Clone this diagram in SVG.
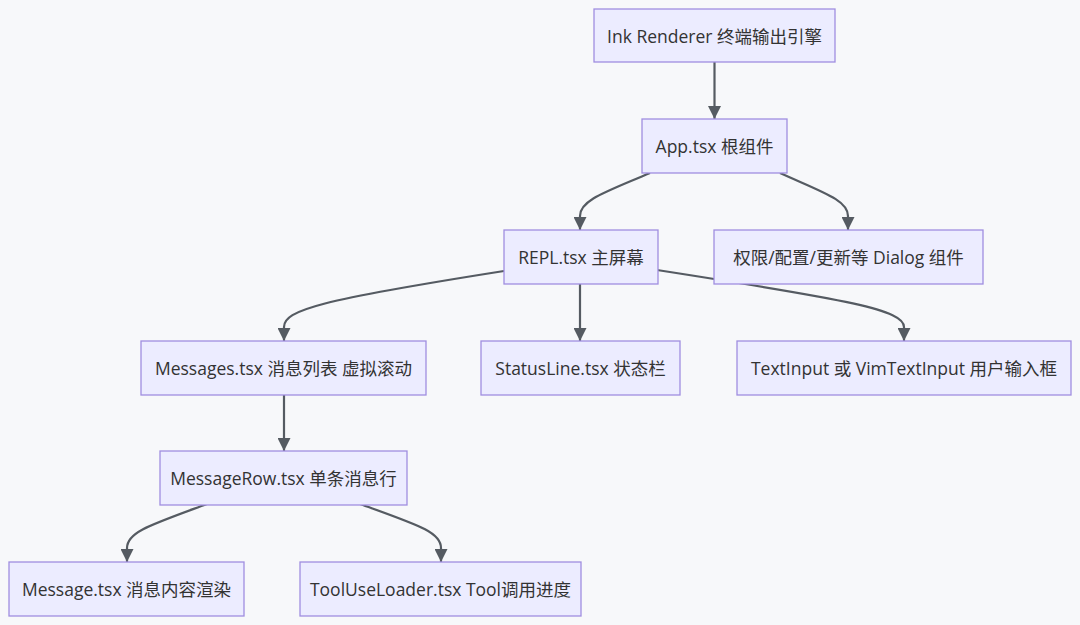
<svg xmlns="http://www.w3.org/2000/svg" width="1080" height="625" viewBox="0 0 1080 625">
<defs>
<marker id="arr" viewBox="0 0 10 10" refX="10" refY="5" markerUnits="userSpaceOnUse" markerWidth="14" markerHeight="13" orient="auto">
<path d="M0,0 L10,5 L0,10 z" fill="#555b62"/>
</marker>
<style>
.node rect{fill:#ececff;stroke:#a08ee0;stroke-width:1.3}
.node text{font-family:"Open Sans","Noto Sans CJK SC",sans-serif;font-size:17.5px;fill:#333;text-anchor:middle;dominant-baseline:central}
.edges path{fill:none;stroke:#555b62;stroke-width:2.2;marker-end:url(#arr)}
</style>
</defs>
<rect width="1080" height="625" fill="#f7f8fa"/>
<g class="edges">
<path d="M714.5,62 L714.5,119"/>
<path d="M650,173 C606,192 580,200 580,216 L580,230"/>
<path d="M780,173 C822,192 848,200 848,216 L848,230"/>
<path d="M504,271 C320,300 284,310 284,327 L284,341"/>
<path d="M580,284 L580,341"/>
<path d="M657,270 C850,300 904,310 904,327 L904,341"/>
<path d="M284,395 L284,451"/>
<path d="M207,504 C150,525 127,532 127,548 L127,562"/>
<path d="M360,504 C418,525 441,532 441,548 L441,562"/>
</g>
<g id="ink" class="node"><rect x="594" y="9" width="241" height="53"/><text x="714.5" y="35.5">Ink Renderer 终端输出引擎</text></g>
<g id="app" class="node"><rect x="642" y="119" width="145" height="54"/><text x="714.5" y="146">App.tsx 根组件</text></g>
<g id="repl" class="node"><rect x="504" y="230" width="154" height="54"/><text x="581" y="257">REPL.tsx 主屏幕</text></g>
<g id="dialog" class="node"><rect x="714" y="230" width="269" height="54"/><text x="848.5" y="257">权限/配置/更新等 Dialog 组件</text></g>
<g id="messages" class="node"><rect x="141" y="341" width="285" height="54"/><text x="283.5" y="368">Messages.tsx 消息列表 虚拟滚动</text></g>
<g id="statusline" class="node"><rect x="481" y="341" width="199" height="54"/><text x="580.5" y="368">StatusLine.tsx 状态栏</text></g>
<g id="textinput" class="node"><rect x="737" y="341" width="334" height="54"/><text x="904" y="368">TextInput 或 VimTextInput 用户输入框</text></g>
<g id="messagerow" class="node"><rect x="160" y="451" width="247" height="54"/><text x="283.5" y="478">MessageRow.tsx 单条消息行</text></g>
<g id="message" class="node"><rect x="9" y="562" width="235" height="54"/><text x="126.5" y="589">Message.tsx 消息内容渲染</text></g>
<g id="tooluse" class="node"><rect x="300" y="562" width="281" height="54"/><text x="440.5" y="589">ToolUseLoader.tsx Tool调用进度</text></g>
</svg>
